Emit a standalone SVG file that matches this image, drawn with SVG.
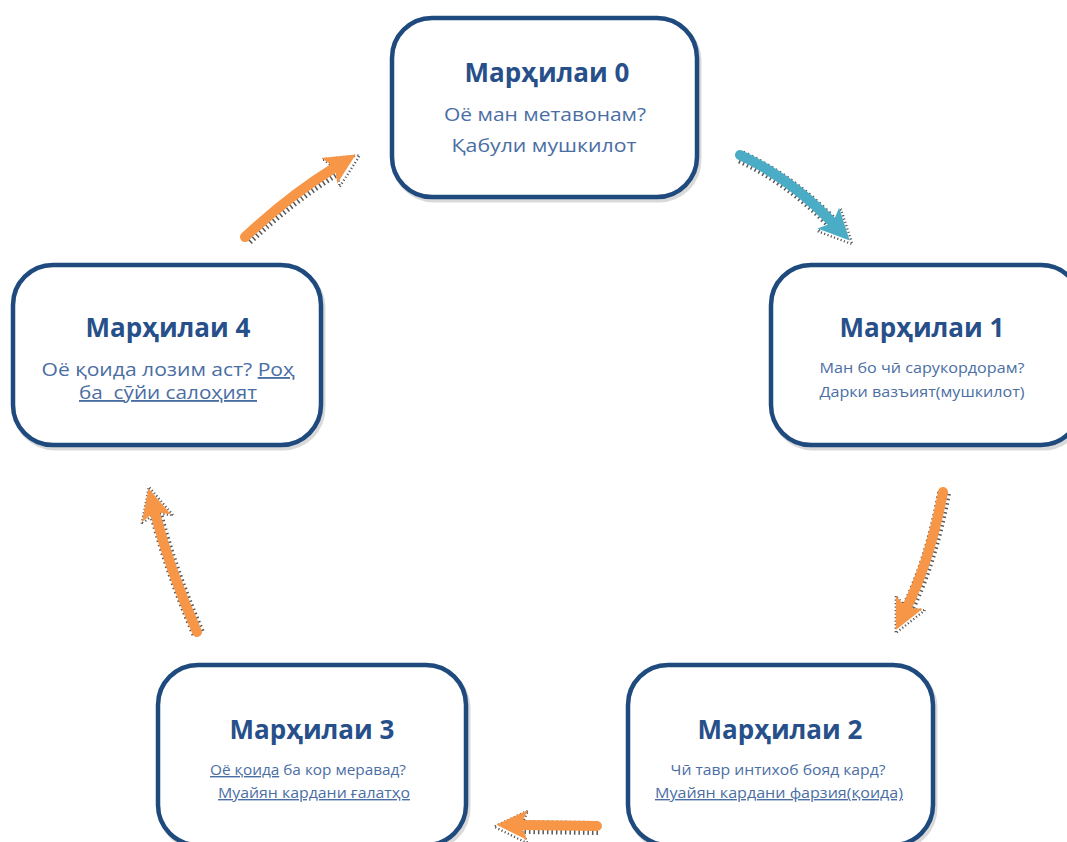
<svg xmlns="http://www.w3.org/2000/svg" width="1067" height="842" viewBox="0 0 1067 842">
<defs>
<style>
.box{fill:#ffffff;stroke:#1F4A7E;stroke-width:4.5}
.shadow{fill:none;stroke:#000;stroke-opacity:0.15;stroke-width:5}
.title{font-family:"Open Sans","Noto Sans",sans-serif;font-weight:bold;font-size:26px;fill:#27508A;text-anchor:middle}
.sub{font-family:"Open Sans","Noto Sans",sans-serif;fill:#4A6EA3;text-anchor:middle}
.u{text-decoration:underline}
.shaftO{fill:none;stroke:#F79646;stroke-width:10;stroke-linecap:round}
.shaftB{fill:none;stroke:#4BACC6;stroke-width:10;stroke-linecap:round}
.sk{fill:none;stroke:#111;stroke-width:14;stroke-dasharray:1.5 3;stroke-opacity:0.7}
</style>
<marker id="hO" markerUnits="userSpaceOnUse" markerWidth="32" markerHeight="32" viewBox="0 0 30 30" refX="5" refY="15" orient="auto">
<path d="M0,1 L29,15 L0,29 L6,15 z" fill="#F79646"/>
</marker>
<marker id="hB" markerUnits="userSpaceOnUse" markerWidth="32" markerHeight="32" viewBox="0 0 30 30" refX="5" refY="15" orient="auto">
<path d="M0,1 L29,15 L0,29 L6,15 z" fill="#4BACC6"/>
</marker>
<marker id="hK" markerUnits="userSpaceOnUse" markerWidth="35" markerHeight="35" viewBox="0 0 30 30" refX="5" refY="15" orient="auto">
<path d="M0,1 L29,15 L0,29 L6,15 z" fill="none" stroke="#111" stroke-width="2" stroke-dasharray="1 2" stroke-opacity="0.7"/>
</marker>
</defs>

<g id="connectors">
<g id="a40">
<path class="sk" d="M247,239 Q292,197 336,170" marker-end="url(#hK)"/>
<path class="shaftO" d="M245,237 Q290,195 334,168" marker-end="url(#hO)"/>
</g>
<g id="a01">
<path class="sk" d="M741,157 Q791,180 833,224" marker-end="url(#hK)"/>
<path class="shaftB" d="M740,155 Q790,178 832,222" marker-end="url(#hB)"/>
</g>
<g id="a12">
<path class="sk" d="M944,493 Q931,561 908,608" marker-end="url(#hK)"/>
<path class="shaftO" d="M943,492 Q930,560 907,607" marker-end="url(#hO)"/>
</g>
<g id="a23">
<path class="sk" d="M598,828 L522,827" marker-end="url(#hK)"/>
<path class="shaftO" d="M597,826 L522,825" marker-end="url(#hO)"/>
</g>
<g id="a34">
<path class="sk" d="M198,633 Q171,571 156,514" marker-end="url(#hK)"/>
<path class="shaftO" d="M197,632 Q170,570 155,513" marker-end="url(#hO)"/>
</g>
</g>

<g id="node0">
<rect class="shadow" x="394" y="21" width="305" height="179" rx="40"/>
<rect class="box" x="392" y="18" width="305" height="179" rx="40"/>
<text class="title" x="547" y="82">Марҳилаи 0</text>
<text class="sub" x="545" y="121" font-size="19" textLength="202" lengthAdjust="spacingAndGlyphs">Оё ман метавонам?</text>
<text class="sub" x="544" y="152" font-size="19" textLength="185" lengthAdjust="spacingAndGlyphs">Қабули мушкилот</text>
</g>

<g id="node1">
<rect class="shadow" x="773" y="268" width="310" height="180" rx="40"/>
<rect class="box" x="771" y="265" width="310" height="180" rx="40"/>
<text class="title" x="922" y="337">Марҳилаи 1</text>
<text class="sub" x="922" y="373" font-size="14" textLength="205" lengthAdjust="spacingAndGlyphs">Ман бо чӣ сарукордорам?</text>
<text class="sub" x="922" y="397" font-size="14" textLength="205" lengthAdjust="spacingAndGlyphs">Дарки вазъият(мушкилот)</text>
</g>

<g id="node4">
<rect class="shadow" x="15" y="268" width="308" height="180" rx="40"/>
<rect class="box" x="13" y="265" width="308" height="180" rx="40"/>
<text class="title" x="168" y="337">Марҳилаи 4</text>
<text class="sub" x="168" y="376" font-size="18.5" textLength="253" lengthAdjust="spacingAndGlyphs">Оё қоида лозим аст? <tspan class="u">Роҳ</tspan></text>
<text class="sub u" x="168" y="399" font-size="18.5" textLength="178" lengthAdjust="spacingAndGlyphs" xml:space="preserve">ба  сӯйи салоҳият</text>
</g>

<g id="node3">
<rect class="shadow" x="160" y="668" width="308" height="180" rx="40"/>
<rect class="box" x="158" y="665" width="308" height="180" rx="40"/>
<text class="title" x="312" y="739">Марҳилаи 3</text>
<text class="sub" x="308" y="775" font-size="14" textLength="196" lengthAdjust="spacingAndGlyphs"><tspan class="u">Оё қоида</tspan> ба кор меравад?</text>
<text class="sub u" x="314" y="798" font-size="14" textLength="192" lengthAdjust="spacingAndGlyphs">Муайян кардани ғалатҳо</text>
</g>

<g id="node2">
<rect class="shadow" x="630" y="668" width="305" height="180" rx="40"/>
<rect class="box" x="628" y="665" width="305" height="180" rx="40"/>
<text class="title" x="780" y="739">Марҳилаи 2</text>
<text class="sub" x="778" y="775" font-size="14" textLength="215" lengthAdjust="spacingAndGlyphs">Чӣ тавр интихоб бояд кард?</text>
<text class="sub u" x="779" y="798" font-size="14" textLength="248" lengthAdjust="spacingAndGlyphs">Муайян кардани фарзия(қоида)</text>
</g>
</svg>
